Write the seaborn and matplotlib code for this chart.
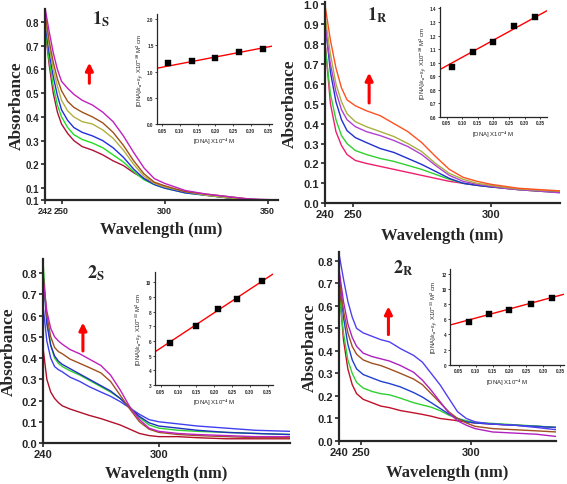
import numpy as np
import pandas as pd
import matplotlib
matplotlib.use('Agg')
import matplotlib.pyplot as plt
import seaborn as sns

sns.set_style('ticks')
plt.rcParams['font.family'] = ['Liberation Sans', 'DejaVu Sans']
plt.rcParams['font.weight'] = 'bold'
plt.rcParams['mathtext.fontset'] = 'stix'

# ---------------- panel 1S ----------------
wl_1s = [242, 244, 246, 248, 250, 253, 256, 260, 265, 270, 275, 280, 285, 290, 295, 300, 310, 320, 330, 340, 355]
red_1s = [0.78, 0.62, 0.50, 0.42, 0.37, 0.33, 0.30, 0.275, 0.26, 0.24, 0.215, 0.195, 0.165, 0.14, 0.12, 0.105, 0.085, 0.07, 0.06, 0.05, 0.045]
green_1s = [0.78, 0.64, 0.53, 0.45, 0.40, 0.355, 0.325, 0.305, 0.29, 0.27, 0.24, 0.21, 0.17, 0.135, 0.115, 0.10, 0.08, 0.07, 0.06, 0.05, 0.045]
blue_1s = [0.80, 0.67, 0.57, 0.49, 0.43, 0.385, 0.355, 0.335, 0.32, 0.30, 0.27, 0.23, 0.18, 0.14, 0.115, 0.10, 0.08, 0.07, 0.06, 0.05, 0.045]
olive_1s = [0.82, 0.70, 0.60, 0.53, 0.47, 0.425, 0.40, 0.38, 0.37, 0.345, 0.31, 0.26, 0.20, 0.15, 0.12, 0.105, 0.085, 0.07, 0.06, 0.05, 0.045]
brown_1s = [0.84, 0.72, 0.63, 0.56, 0.51, 0.465, 0.44, 0.42, 0.40, 0.375, 0.335, 0.28, 0.215, 0.16, 0.125, 0.11, 0.085, 0.075, 0.065, 0.055, 0.045]
magenta_1s = [0.86, 0.76, 0.67, 0.60, 0.55, 0.52, 0.495, 0.47, 0.45, 0.42, 0.38, 0.32, 0.25, 0.185, 0.14, 0.12, 0.09, 0.075, 0.065, 0.055, 0.05]

# ---------------- panel 1R ----------------
wl_1r = [240, 242, 244, 246, 248, 251, 255, 260, 265, 270, 275, 280, 285, 290, 295, 300, 305, 310, 318, 325]
pink_1r = [0.82, 0.50, 0.36, 0.29, 0.245, 0.215, 0.20, 0.185, 0.17, 0.155, 0.14, 0.125, 0.11, 0.10, 0.09, 0.082, 0.075, 0.068, 0.06, 0.055]
green_1r = [0.80, 0.55, 0.42, 0.34, 0.30, 0.265, 0.245, 0.225, 0.21, 0.19, 0.17, 0.145, 0.12, 0.10, 0.09, 0.082, 0.075, 0.068, 0.06, 0.055]
blue_1r = [0.92, 0.66, 0.51, 0.42, 0.365, 0.33, 0.305, 0.275, 0.255, 0.225, 0.195, 0.16, 0.125, 0.10, 0.09, 0.082, 0.076, 0.07, 0.062, 0.056]
purple_1r = [0.90, 0.70, 0.56, 0.47, 0.42, 0.385, 0.36, 0.34, 0.315, 0.285, 0.245, 0.19, 0.14, 0.11, 0.095, 0.085, 0.075, 0.068, 0.06, 0.052]
olive_1r = [0.95, 0.75, 0.60, 0.51, 0.45, 0.41, 0.385, 0.36, 0.335, 0.30, 0.26, 0.20, 0.15, 0.12, 0.10, 0.09, 0.08, 0.072, 0.065, 0.06]
orange_1r = [1.0, 0.82, 0.68, 0.58, 0.52, 0.49, 0.465, 0.44, 0.40, 0.36, 0.305, 0.235, 0.17, 0.13, 0.11, 0.095, 0.085, 0.075, 0.068, 0.062]

# ---------------- panel 2S ----------------
wl_2s = [240, 242, 244, 246, 248, 250, 254, 259, 264, 270, 275, 280, 285, 290, 295, 300, 310, 320, 335, 350, 368]
red_2s = [0.45, 0.30, 0.24, 0.21, 0.19, 0.175, 0.16, 0.145, 0.13, 0.115, 0.10, 0.085, 0.065, 0.045, 0.035, 0.03, 0.03, 0.025, 0.02, 0.02, 0.02]
violet_2s = [0.65, 0.48, 0.40, 0.36, 0.345, 0.335, 0.31, 0.29, 0.265, 0.24, 0.22, 0.195, 0.165, 0.135, 0.11, 0.10, 0.09, 0.08, 0.07, 0.06, 0.055]
green_2s = [0.86, 0.58, 0.46, 0.40, 0.375, 0.36, 0.34, 0.32, 0.295, 0.265, 0.24, 0.21, 0.17, 0.12, 0.085, 0.07, 0.06, 0.055, 0.05, 0.045, 0.04]
blue_2s = [0.80, 0.56, 0.46, 0.41, 0.385, 0.37, 0.35, 0.325, 0.30, 0.27, 0.245, 0.21, 0.165, 0.125, 0.095, 0.08, 0.07, 0.06, 0.05, 0.045, 0.04]
brown_2s = [0.80, 0.60, 0.50, 0.45, 0.43, 0.42, 0.395, 0.375, 0.355, 0.33, 0.29, 0.225, 0.16, 0.10, 0.065, 0.05, 0.04, 0.035, 0.03, 0.025, 0.025]
magenta_2s = [0.77, 0.62, 0.54, 0.50, 0.48, 0.465, 0.44, 0.42, 0.395, 0.365, 0.32, 0.25, 0.17, 0.11, 0.07, 0.055, 0.045, 0.04, 0.035, 0.03, 0.03]

# ---------------- panel 2R ----------------
wl_2r = [240, 242, 244, 246, 248, 251, 255, 259, 263, 268, 274, 278, 282, 286, 290, 294, 298, 302, 310, 320, 330, 339]
red_2r = [0.70, 0.45, 0.32, 0.25, 0.21, 0.185, 0.17, 0.155, 0.148, 0.135, 0.125, 0.118, 0.11, 0.10, 0.095, 0.09, 0.085, 0.08, 0.075, 0.07, 0.065, 0.06]
green_2r = [0.65, 0.48, 0.36, 0.30, 0.26, 0.235, 0.22, 0.21, 0.205, 0.19, 0.17, 0.16, 0.15, 0.135, 0.115, 0.10, 0.09, 0.082, 0.078, 0.072, 0.066, 0.06]
blue_2r = [0.75, 0.55, 0.43, 0.36, 0.32, 0.295, 0.28, 0.265, 0.255, 0.24, 0.215, 0.195, 0.17, 0.145, 0.12, 0.10, 0.085, 0.08, 0.075, 0.07, 0.065, 0.06]
brown_2r = [0.72, 0.58, 0.48, 0.42, 0.385, 0.36, 0.345, 0.335, 0.32, 0.30, 0.275, 0.25, 0.21, 0.17, 0.13, 0.10, 0.08, 0.065, 0.055, 0.05, 0.045, 0.04]
purple_2r = [0.76, 0.62, 0.52, 0.46, 0.42, 0.39, 0.375, 0.365, 0.355, 0.335, 0.305, 0.27, 0.225, 0.175, 0.125, 0.09, 0.07, 0.055, 0.04, 0.035, 0.03, 0.02]
violet_2r = [0.83, 0.72, 0.62, 0.55, 0.50, 0.48, 0.465, 0.45, 0.44, 0.41, 0.38, 0.35, 0.30, 0.25, 0.19, 0.13, 0.10, 0.085, 0.075, 0.07, 0.06, 0.05]

# ---------------- insets: [DNA] vs [DNA]/(ea-ef) ----------------
dna_1s = [0.067, 0.133, 0.2, 0.267, 0.333]
ratio_1s = [1.17, 1.20, 1.27, 1.38, 1.43]
fit_1s = (1.02, 1.30)          # intercept, slope
dna_1r = [0.067, 0.133, 0.2, 0.267, 0.333]
ratio_1r = [0.97, 1.075, 1.15, 1.27, 1.34]
fit_1r = (0.914, 1.26)
dna_2s = [0.075, 0.15, 0.21, 0.265, 0.333]
ratio_2s = [5.85, 7.05, 8.15, 8.85, 10.1]
fit_2s = (4.73, 16.0)
dna_2r = [0.08, 0.14, 0.2, 0.265, 0.325]
ratio_2r = [5.7, 6.7, 7.25, 7.95, 8.75]
fit_2r = (4.95, 12.0)


def draw_spectra(ax, wl, curves, colors, ylab_x, xlab_y):
    df = pd.DataFrame({'wl': wl, **curves}).melt(id_vars='wl', var_name='c', value_name='A')
    sns.lineplot(data=df, x='wl', y='A', hue='c', palette=colors, legend=False,
                 lw=1.0, ax=ax, sort=False)
    sns.despine(ax=ax)
    for s in ['left', 'bottom']:
        ax.spines[s].set_linewidth(1.6)
    ax.tick_params(labelsize=8, length=3, width=1.2, pad=1.5)
    ax.set_xlabel('Wavelength (nm)', family='Liberation Serif', fontsize=12,
                  fontweight='bold')
    ax.set_ylabel('Absorbance', family='Liberation Serif', fontsize=12.5,
                  fontweight='bold')
    ax.yaxis.set_label_coords(ylab_x, 0.5)
    ax.xaxis.set_label_coords(0.5, xlab_y)


def draw_inset(ax, x, y, fit, xlim, ylim, yticks, exp):
    sns.scatterplot(x=x, y=y, marker='s', color='black', s=13, ax=ax, zorder=3,
                    edgecolor='black')
    ax.axline((0, fit[0]), slope=fit[1], color='red', lw=1.0)
    ax.set_xlim(*xlim)
    ax.set_ylim(*ylim)
    ax.set_xticks([0.05, 0.10, 0.15, 0.20, 0.25, 0.30, 0.35])
    ax.set_yticks(yticks)
    ax.set_facecolor('none')
    sns.despine(ax=ax)
    for s in ['left', 'bottom']:
        ax.spines[s].set_linewidth(0.9)
    ax.tick_params(labelsize=3.3, length=1.5, width=0.6, pad=1)
    ax.set_xlabel('[DNA] X10$^{-4}$ M', fontsize=4.3, labelpad=2)
    ax.set_ylabel('[DNA]/ε$_a$−ε$_f$, X10$^{' + exp + '}$ M$^2$ cm', fontsize=4.3, labelpad=1)


def panel_label(ax, num, sub, fx, fy):
    ax.text(fx, fy, r'$\mathbf{' + num + r'}_{\mathrm{' + sub + '}}$', transform=ax.transAxes,
            fontsize=13, ha='left', va='center')


def up_arrow(ax, x, y0, y1):
    ax.annotate('', xy=(x, y1), xytext=(x, y0),
                arrowprops=dict(arrowstyle='-|>', color='red', lw=2.2, mutation_scale=11))


fig = plt.figure(figsize=(5.67, 4.85), dpi=100)

# 1S
ax = fig.add_axes([0.0794, 0.5856, 0.411, 0.394])
draw_spectra(ax, wl_1s, {'r': red_1s, 'g': green_1s, 'b': blue_1s, 'o': olive_1s,
                         'br': brown_1s, 'm': magenta_1s},
             {'r': '#b0103a', 'g': '#22dd22', 'b': '#2030e0', 'o': '#b0b040',
              'br': '#a0501a', 'm': '#c020c0'}, -0.085, -0.11)
ax.set_xlim(242, 355)
ax.set_ylim(0.05, 0.855)
ax.set_xticks([242, 250, 300, 350])
ax.set_yticks([0.05, 0.1, 0.2, 0.3, 0.4, 0.5, 0.6, 0.7, 0.8])
ax.set_yticklabels(['0.1', '0.1', '0.2', '0.3', '0.4', '0.5', '0.6', '0.7', '0.8'])
ax.tick_params(labelsize=7)
ax.tick_params(axis='x', labelsize=6.5)
panel_label(ax, '1', 'S', 0.2, 0.95)
up_arrow(ax, 263.5, 0.53, 0.64)

ax = fig.add_axes([0.277, 0.742, 0.203, 0.227])
draw_inset(ax, dna_1s, ratio_1s, fit_1s, (0.036, 0.36), (0, 2.1),
           [0.0, 0.5, 1.0, 1.5, 2.0], '-10')

# 1R
ax = fig.add_axes([0.573, 0.579, 0.4145, 0.414])
draw_spectra(ax, wl_1r, {'p': pink_1r, 'g': green_1r, 'b': blue_1r, 'pu': purple_1r,
                         'o': olive_1r, 'or': orange_1r},
             {'p': '#ee1f6e', 'g': '#30d030', 'b': '#1f2fd0', 'pu': '#b040d0',
              'o': '#a8b040', 'or': '#ff5020'}, -0.115, -0.12)
ax.set_xlim(240, 325)
ax.set_ylim(0, 1.01)
ax.set_xticks([240, 250, 300])
ax.set_yticks(np.arange(0, 1.01, 0.1))
ax.set_yticklabels(['0.0', '0.1', '0.2', '0.3', '0.4', '0.5', '0.6', '0.7', '0.8', '0.9', '1.0'])
panel_label(ax, '1', 'R', 0.18, 0.94)
up_arrow(ax, 256, 0.49, 0.67)

ax = fig.add_axes([0.776, 0.7567, 0.1887, 0.2268])
draw_inset(ax, dna_1r, ratio_1r, fit_1r, (0.0285, 0.372), (0.6, 1.41),
           [0.6, 0.7, 0.8, 0.9, 1.0, 1.1, 1.2, 1.3, 1.4], '-10')

# 2S
ax = fig.add_axes([0.0758, 0.0845, 0.4356, 0.379])
draw_spectra(ax, wl_2s, {'r': red_2s, 'v': violet_2s, 'g': green_2s, 'b': blue_2s,
                         'br': brown_2s, 'm': magenta_2s},
             {'r': '#b0102a', 'v': '#4040f0', 'g': '#30d030', 'b': '#2030c0',
              'br': '#a05020', 'm': '#c020c0'}, -0.105, -0.12)
ax.set_xlim(240, 368)
ax.set_ylim(0, 0.865)
ax.set_xticks([240, 300])
ax.set_yticks(np.arange(0, 0.81, 0.1))
ax.set_yticklabels(['0.0', '0.1', '0.2', '0.3', '0.4', '0.5', '0.6', '0.7', '0.8'])
panel_label(ax, '2', 'S', 0.18, 0.93)
up_arrow(ax, 260.7, 0.42, 0.58)

ax = fig.add_axes([0.273, 0.204, 0.208, 0.233])
draw_inset(ax, dna_2s, ratio_2s, fit_2s, (0.033, 0.364), (3, 10.7),
           [3, 4, 5, 6, 7, 8, 9, 10], '-11')

# 2R
ax = fig.add_axes([0.598, 0.0887, 0.383, 0.39])
draw_spectra(ax, wl_2r, {'r': red_2r, 'g': green_2r, 'b': blue_2r, 'br': brown_2r,
                         'pu': purple_2r, 'v': violet_2r},
             {'r': '#c0102a', 'g': '#30d030', 'b': '#2040d0', 'br': '#a05020',
              'pu': '#b020c0', 'v': '#5040f0'}, -0.1, -0.12)
ax.set_xlim(240, 339)
ax.set_ylim(0, 0.84)
ax.set_xticks([240, 250, 300])
ax.set_yticks(np.arange(0, 0.81, 0.1))
ax.set_yticklabels(['0.0', '0.1', '0.2', '0.3', '0.4', '0.5', '0.6', '0.7', '0.8'])
panel_label(ax, '2', 'R', 0.25, 0.92)
up_arrow(ax, 262.5, 0.46, 0.61)

ax = fig.add_axes([0.794, 0.2454, 0.2, 0.198])
draw_inset(ax, dna_2r, ratio_2r, fit_2r, (0.025, 0.36), (0, 12.6),
           [0, 2, 4, 6, 8, 10, 12], '-11')

fig.savefig('out.png', dpi=100)
